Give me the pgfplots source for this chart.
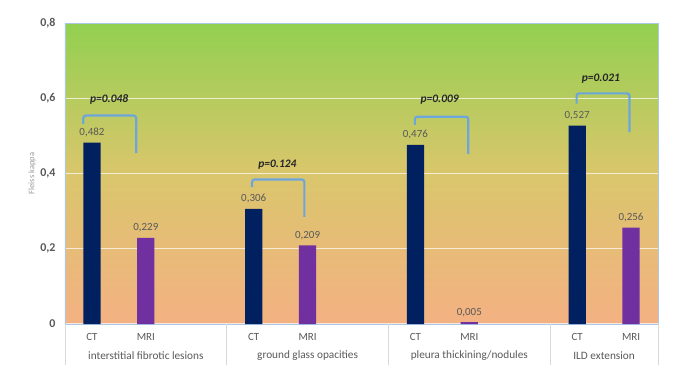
\documentclass[border=0pt]{standalone}
\usepackage{fontspec}
\setmainfont{Carlito}
\usepackage{pgfplots}
\pgfplotsset{compat=1.18}
\definecolor{ctc}{RGB}{0,32,96}
\definecolor{mric}{RGB}{112,48,160}
\definecolor{topg}{RGB}{146,208,80}
\definecolor{midg}{RGB}{218,198,108}
\definecolor{botg}{RGB}{244,177,131}
\definecolor{brc}{RGB}{108,166,220}
\definecolor{txt}{RGB}{89,89,89}
\definecolor{sepc}{RGB}{217,217,217}
\definecolor{framec}{RGB}{170,200,232}
\begin{document}
\begin{tikzpicture}
\begin{axis}[
  at={(0,0)}, anchor=south west,
  scale only axis, width=593bp, height=301bp,
  xmin=-0.5, xmax=10.5, ymin=0, ymax=0.8,
  clip=false,
  axis background/.style={shade, top color=topg, bottom color=botg, middle color=midg},
  axis line style={framec, line width=0.8bp},
  major tick length=0pt,
  ytick={0,0.2,0.4,0.6,0.8},
  yticklabels={0,{0,2},{0,4},{0,6},{0,8}},
  yticklabel style={font=\bfseries\fontsize{12}{14}\selectfont, text=txt, xshift=-6bp},
  xtick={0,1,3,4,6,7,9,10},
  xticklabels={CT,MRI,CT,MRI,CT,MRI,CT,MRI},
  xticklabel style={font=\fontsize{11}{13}\selectfont, text=txt, yshift=-6bp},
  ymajorgrids,
  grid style={white, opacity=0.7, line width=1.1bp},
  ylabel={Fleiss kappa},
  ylabel style={at={(axis description cs:-0.0556,0.5)}, anchor=center, font=\fontsize{8.5}{10}\selectfont, text=black!40},
  nodes near coords={\pgfmathprintnumber[assume math mode=true,use comma,fixed,fixed zerofill,precision=3]{\pgfplotspointmeta}},
  every node near coord/.append style={font=\fontsize{11}{13}\selectfont, text=txt, yshift=2bp},
]
\addplot[ybar, bar width=0.32, bar shift=0pt, fill=ctc, draw=none] coordinates {(0,0.482) (3,0.306) (6,0.476) (9,0.527)};
\addplot[ybar, bar width=0.32, bar shift=0pt, fill=mric, draw=none] coordinates {(1,0.229) (4,0.209) (7,0.005) (10,0.256)};
\addplot[brc, line width=2.2bp, rounded corners=2.5bp, no markers, nodes near coords={}] coordinates {(-0.16,0.532) (-0.16,0.554) (0.82,0.554) (0.82,0.454)};
\addplot[brc, line width=2.2bp, rounded corners=2.5bp, no markers, nodes near coords={}] coordinates {(2.97,0.364) (2.97,0.384) (3.94,0.384) (3.94,0.285)};
\addplot[brc, line width=2.2bp, rounded corners=2.5bp, no markers, nodes near coords={}] coordinates {(5.99,0.529) (5.99,0.551) (6.98,0.551) (6.98,0.452)};
\addplot[brc, line width=2.2bp, rounded corners=2.5bp, no markers, nodes near coords={}] coordinates {(8.99,0.586) (8.99,0.613) (9.97,0.613) (9.97,0.510)};
\begin{scope}[every node/.style={font=\bfseries\itshape\fontsize{11.5}{13}\selectfont, text=black!85}]
\node at (axis cs:0.32,0.598) {p=0.048};
\node at (axis cs:3.44,0.423) {p=0.124};
\node at (axis cs:6.45,0.595) {p=0.009};
\node at (axis cs:9.44,0.651) {p=0.021};
\end{scope}
\pgfplotsinvokeforeach{-0.5,2.5,5.5,8.5,10.5}{
  \draw[sepc, line width=0.8bp] (axis cs:#1,0) -- ([yshift=-41bp]axis cs:#1,0);
}
\begin{scope}[every node/.style={font=\fontsize{11.3}{13}\selectfont, text=txt}]
\node at ([yshift=-32bp]axis cs:1,0) {interstitial fibrotic lesions};
\node at ([yshift=-32bp]axis cs:4,0) {ground glass opacities};
\node at ([yshift=-32bp]axis cs:7,0) {pleura thickining/nodules};
\node at ([yshift=-32bp]axis cs:9.5,0) {ILD extension};
\end{scope}
\end{axis}
\pgfresetboundingbox
\useasboundingbox (-65bp,-54bp) rectangle (613bp,324bp);
\end{tikzpicture}
\end{document}
